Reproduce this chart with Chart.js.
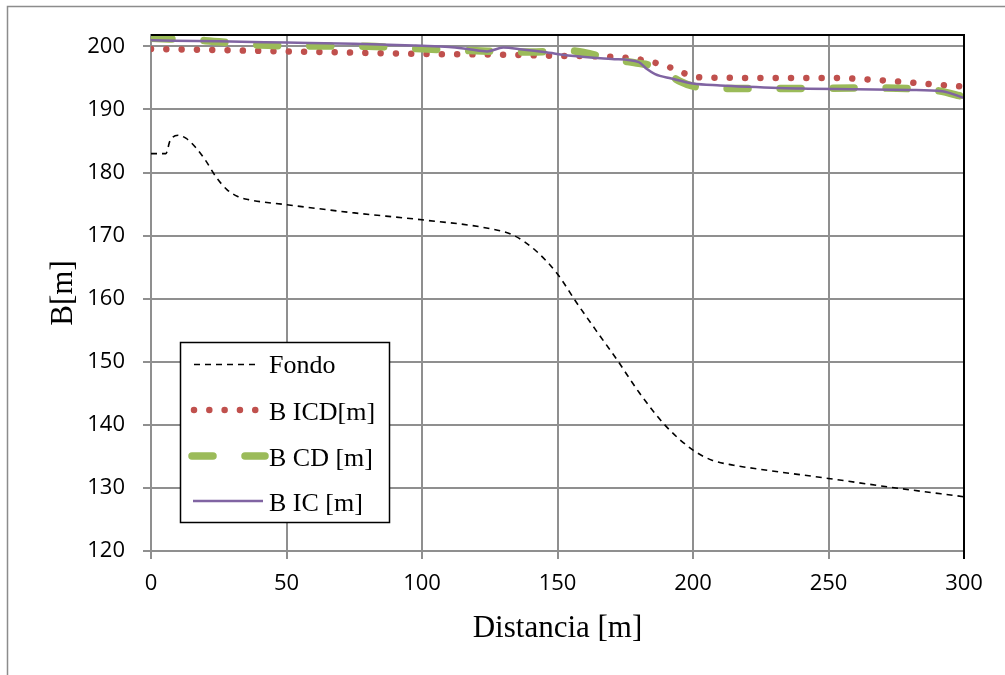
<!DOCTYPE html>
<html><head><meta charset="utf-8">
<script src="https://cdn.jsdelivr.net/npm/chart.js@4/dist/chart.umd.min.js"></script>
<style>html,body{margin:0;padding:0;background:#fff}#wrap{width:1005px;height:675px;position:relative}</style>
</head><body><div id="wrap"><canvas id="c"></canvas></div>
<script>
// ---- data ----
const fondoX = [0,5.5,7,10,13,16,20,24,28,32,36,50,75,100,125,134,142,150,157,165,172,180,190,200,207,215,224,250,273,300];
const fondoY = [183,183,185,185.9,185.4,184.2,182,179.3,177.3,176.2,175.7,174.9,173.6,172.5,171.1,170,167.6,163.9,159.4,154.5,150.3,145.2,139.8,136,134.4,133.6,133,131.5,130.1,128.6];

const icdX = [0,25,50,75,100,125,150,165,175,182,190,197,202,225,250,270,285,300];
const icdY = [199.6,199.4,199.2,199,198.8,198.7,198.5,198.4,198.2,197.8,196.9,195.7,195.1,195,195,194.6,194.1,193.6];

const cdX = [0,20,40,60,80,100,120,140,155,160,170,180,185,190,195,200,205,220,240,260,280,290,300];
const cdY = [201.3,200.9,200.2,200.05,200,199.6,199.3,199.1,199.3,199.0,198.0,197.3,196.9,195.8,194.5,193.7,193.4,193.3,193.3,193.4,193.3,193.0,192.0];

const icX = [0,25,50,75,100,110,118,124,130,137,145,155,170,180,183,186,192,200,210,220,240,260,280,292,300];
const icY = [200.95,200.8,200.6,200.4,200.1,199.9,199.5,199.2,199.8,199.5,199.1,198.5,198,197.5,196.4,195.6,194.9,194.1,193.8,193.6,193.3,193.2,193.1,192.9,191.8];

const xTicks = [0,50,100,150,200,250,300];
const yTicks = [120,130,140,150,160,170,180,190,200];
const seriesNames = ['Fondo','B ICD[m]','B CD [m]','B IC [m]'];
const xTitle = 'Distancia [m]';
const yTitle = 'B[m]';

// ---- styles ----
const styles = [
  {color:'#000000', width:1.6, dash:[6,5], cap:'butt'},
  {color:'#C0504D', width:6.5, dash:[0.01,15.3], cap:'round'},
  {color:'#9BBB59', width:7.5, dash:[21,32], cap:'round'},
  {color:'#8064A2', width:2.5, dash:[], cap:'butt'}
];
const pts = (xs, ys) => xs.map((x,i)=>({x:x, y:ys[i]}));
const allData = [pts(fondoX,fondoY), pts(icdX,icdY), pts(cdX,cdY), pts(icX,icY)];

const datasets = allData.map((d,i)=>({
  label: seriesNames[i],
  data: d,
  borderColor: styles[i].color,
  backgroundColor: styles[i].color,
  borderWidth: styles[i].width,
  borderDash: styles[i].dash,
  borderCapStyle: styles[i].cap,
  borderJoinStyle: 'round',
  pointRadius: 0,
  pointHoverRadius: 0,
  fill: false,
  cubicInterpolationMode: 'monotone',
  order: 3 - i
}));

const frame = {
  id: 'frame',
  beforeDraw(chart) {
    const ctx = chart.ctx;
    ctx.save();
    ctx.fillStyle = '#fff';
    ctx.fillRect(0,0,chart.width,chart.height);
    ctx.strokeStyle = '#8c8c8c';
    ctx.lineWidth = 1.5;
    ctx.beginPath();
    ctx.moveTo(7.5, 700); ctx.lineTo(7.5, 6.5); ctx.lineTo(1100, 6.5);
    ctx.stroke();
    ctx.restore();
  },
  afterDatasetsDraw(chart) {
    const ctx = chart.ctx, a = chart.chartArea;
    ctx.save();
    ctx.strokeStyle = '#000';
    ctx.lineWidth = 2;
    ctx.beginPath();
    ctx.moveTo(a.left, a.top); ctx.lineTo(a.right, a.top); ctx.lineTo(a.right, a.bottom + 8);
    ctx.stroke();
    ctx.restore();
  },
  afterDraw(chart) {
    const ctx = chart.ctx;
    ctx.save();
    // legend box
    const bx = 180.5, by = 342.5, bw = 209, bh = 180;
    ctx.fillStyle = '#fff';
    ctx.fillRect(bx, by, bw, bh);
    ctx.strokeStyle = '#000';
    ctx.lineWidth = 1.5;
    ctx.strokeRect(bx, by, bw, bh);
    const rowsY = [364.5, 410, 456, 501];
    const sampleX = [[194,255],[194,256],[192,265],[193,263]];
    for (let i = 0; i < 4; i++) {
      const s = styles[i];
      ctx.strokeStyle = s.color;
      ctx.lineWidth = s.width;
      ctx.setLineDash(s.dash);
      ctx.lineCap = s.cap;
      ctx.beginPath();
      ctx.moveTo(sampleX[i][0], rowsY[i]);
      ctx.lineTo(sampleX[i][1], rowsY[i]);
      ctx.stroke();
    }
    ctx.setLineDash([]);
    ctx.fillStyle = '#000';
    ctx.font = '26px "Liberation Serif", "Times New Roman", serif';
    ctx.textAlign = 'left';
    ctx.textBaseline = 'alphabetic';
    const baseY = [373, 419.5, 466, 510.5];
    for (let i = 0; i < 4; i++) ctx.fillText(seriesNames[i], 269, baseY[i]);
    ctx.restore();
  }
};

const gridColor = '#8f8f8f';
new Chart(document.getElementById('c'), {
  type: 'line',
  data: { datasets },
  options: {
    responsive: true,
    maintainAspectRatio: false,
    animation: false,
    events: [],
    layout: { padding: { left: 10, top: 35, right: 41, bottom: 0 } },
    plugins: { legend: { display: false }, tooltip: { enabled: false } },
    scales: {
      x: {
        type: 'linear',
        min: 0, max: 300,
        afterBuildTicks: s => { s.ticks = xTicks.map(v => ({ value: v })); },
        afterFit: s => { s.height = 124; },
        grid: { color: gridColor, lineWidth: 2, tickLength: 8, drawTicks: true },
        border: { display: true, color: gridColor, width: 2 },
        ticks: { color: '#000', padding: 12, maxRotation: 0,
          font: { family: '"Open Sans", Arial, sans-serif', size: 22 } },
        title: { display: true, text: xTitle, color: '#000',
          font: { family: '"Liberation Serif", "Times New Roman", serif', size: 31 },
          padding: { top: 0, bottom: 28 } }
      },
      y: {
        type: 'linear',
        min: 120, max: 201.8,
        afterBuildTicks: s => { s.ticks = yTicks.map(v => ({ value: v })); },
        afterFit: s => { s.width = 141; },
        grid: { color: gridColor, lineWidth: 2, tickLength: 8, drawTicks: true },
        border: { display: true, color: gridColor, width: 2 },
        ticks: { color: '#000', padding: 18,
          font: { family: '"Open Sans", Arial, sans-serif', size: 22 } },
        title: { display: true, text: yTitle, color: '#000',
          font: { family: '"Liberation Serif", "Times New Roman", serif', size: 31 },
          padding: { top: 35, bottom: 0 } }
      }
    }
  },
  plugins: [frame]
});
</script>
</body></html>
